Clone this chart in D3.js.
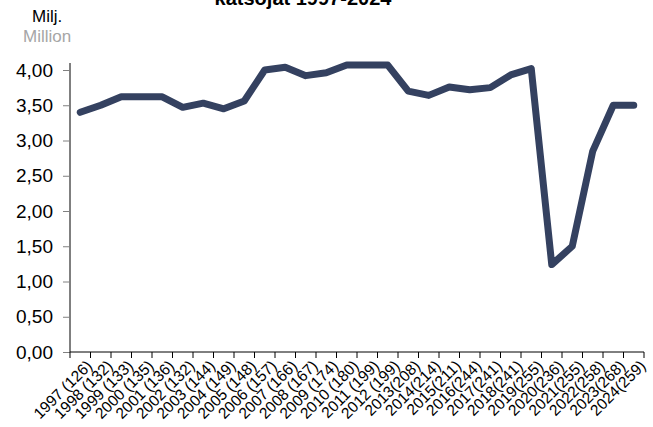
<!DOCTYPE html>
<html>
<head>
  <meta charset="utf-8">
  <style>
    body { margin: 0; background: #fff; }
    text { font-family: "Liberation Sans", Arial, sans-serif; }
  </style>
  <script src="https://d3js.org/d3.v7.min.js"></script>
</head>
<body>
  <div id="chart"></div>
  <script>
    const years = ["1997 (126)", "1998 (132)", "1999 (133)", "2000 (135)", "2001 (136)",
      "2002 (132)", "2003 (144)", "2004 (149)", "2005 (148)", "2006 (157)", "2007 (166)",
      "2008 (167)", "2009 (174)", "2010 (180)", "2011 (199)", "2012 (199)", "2013(208)",
      "2014(214)", "2015(211)", "2016(244)", "2017(241)", "2018(241)", "2019(255)",
      "2020(236)", "2021(255)", "2022(258)", "2023(268)", "2024(259)"];
    const viewers = [3.40, 3.50, 3.62, 3.62, 3.62, 3.47, 3.53, 3.45, 3.56, 4.00, 4.04,
      3.92, 3.96, 4.07, 4.07, 4.07, 3.70, 3.64, 3.76, 3.72, 3.75, 3.93, 4.02,
      1.24, 1.50, 2.85, 3.50, 3.50];
    const yTicks = [0, 0.5, 1, 1.5, 2, 2.5, 3, 3.5, 4];

    const svg = d3.select("#chart").append("svg")
      .attr("width", 653)
      .attr("height", 427);

    const margin = { top: 70, left: 70, right: 9, bottom: 75 };
    const width = 653 - margin.left - margin.right,
          height = 427 - margin.top - margin.bottom;

    const g = svg.append("g")
      .attr("transform", `translate(${margin.left},${margin.top})`);

    const x = d3.scaleBand().domain(years).range([0, width]);
    const y = d3.scaleLinear().domain([0, 4]).range([height, 0]);

    const fmt = d => d3.format(".2f")(d).replace(".", ",");

    // title, only its last line is in view
    svg.append("text")
      .attr("x", 303)
      .attr("y", 5)
      .attr("text-anchor", "middle")
      .style("font-size", "20px")
      .style("font-weight", "bold")
      .text("katsojat 1997-2024");

    svg.append("text")
      .attr("x", 32).attr("y", 22)
      .style("font-size", "17px")
      .style("fill", "#000")
      .text("Milj.");
    svg.append("text")
      .attr("x", 23).attr("y", 42)
      .style("font-size", "17px")
      .style("fill", "#a6a6a6")
      .text("Million");

    // y axis
    const yAxis = g.append("g")
      .call(d3.axisLeft(y).tickValues(yTicks).tickFormat(fmt).tickSize(7).tickPadding(10));
    yAxis.select(".domain").attr("d", `M0,${y(4) - 7}V${height}`).attr("stroke", "#000");
    yAxis.selectAll(".tick line").attr("stroke", "#808080");
    yAxis.selectAll("text").style("font-size", "19px").style("fill", "#000");

    // x axis with ticks at category edges
    const xAxis = g.append("g").attr("transform", `translate(0,${height})`);
    xAxis.append("line")
      .attr("x1", 0).attr("x2", width)
      .attr("stroke", "#000");
    xAxis.selectAll(".edge")
      .data(d3.range(years.length + 1))
      .enter().append("line")
      .attr("x1", i => i * x.bandwidth())
      .attr("x2", i => i * x.bandwidth())
      .attr("y1", 0).attr("y2", 6)
      .attr("stroke", "#000");
    xAxis.selectAll(".lbl")
      .data(years)
      .enter().append("text")
      .attr("transform", d => `translate(${x(d) + x.bandwidth() / 2 + 5},${7}) rotate(-45)`)
      .attr("text-anchor", "end")
      .attr("dy", "0.71em")
      .style("font-size", "15.5px")
      .text(d => d);

    const line = d3.line()
      .x((d, i) => x(years[i]) + x.bandwidth() / 2)
      .y(d => y(d));

    g.append("path")
      .datum(viewers)
      .attr("fill", "none")
      .attr("stroke", "#344160")
      .attr("stroke-width", 7)
      .attr("stroke-linejoin", "round")
      .attr("stroke-linecap", "round")
      .attr("d", line);
  </script>
</body>
</html>
